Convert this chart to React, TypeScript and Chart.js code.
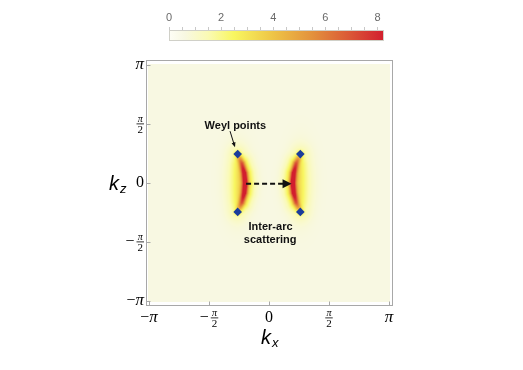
import React, { useEffect, useRef } from "react";
import { Chart, registerables } from "chart.js";

Chart.register(...registerables);

const PI = Math.PI;
const W = 523;
const H = 370;

// ---- axis ticks ----
const axisTickValues = [-PI, -PI / 2, 0, PI / 2, PI];
const axisTickLabels = ["−π", "−π/2", "0", "π/2", "π"];

// ---- Weyl points (kx, kz) ----
const weylKx = [-0.82, -0.82, 0.82, 0.82];
const weylKz = [0.77, -0.77, 0.77, -0.77];

// ---- Fermi arcs: centre lines and peak spectral weight ----
const arcKz = [0.77, 0.52, 0.26, 0, -0.26, -0.52, -0.77];
const leftArcKx = [-0.82, -0.71, -0.645, -0.62, -0.645, -0.71, -0.82];
const rightArcKx = [0.82, 0.71, 0.645, 0.62, 0.645, 0.71, 0.82];
const arcPeak = [2.2, 5.8, 7.8, 8.2, 7.8, 5.8, 2.2];
const arcWidthK = 0.06;
const arcHaloWidthK = 0.17;
const arcHaloFraction = 0.3;

// ---- diffuse glow around each arc ----
const glowKx = [-0.83, 0.83];
const glowKz = [0, 0];
const glowPeak = [1.3, 1.3];
const glowSigmaKx = 0.22;
const glowSigmaKz = 0.58;

const backgroundLevel = 0.6;

// ---- colour map ----
const colorStopValues = [0, 0.6, 1.5, 2.5, 4, 5.5, 7, 8.25];
const colorStopColors = ["#fefef6", "#f8f8e2", "#fafab4", "#f8f660", "#eec446", "#e3913c", "#da5536", "#d21e2e"];

// ---- colour bar ----
const colorbarTicks = [0, 2, 4, 6, 8];
const colorbarMinorStep = 0.5;
const colorbarMax = 8.25;

// ---- annotations ----
const weylLabel = "Weyl points";
const weylLabelPos = [-0.88, 1.53];
const weylArrowFrom = [-1.02, 1.38];
const weylArrowTo = [-0.89, 0.95];
const scatterLabel = ["Inter-arc", "scattering"];
const scatterLabelPos = [[0.04, -1.17], [0.03, -1.52]];
const scatterArrowFrom = [-0.6, -0.02];
const scatterArrowTo = [0.59, -0.02];

const serif = '"Liberation Serif", "DejaVu Serif", serif';
const sans = '"Liberation Sans", Arial, sans-serif';

function hexToRgb(h: string): number[] {
  const n = parseInt(h.slice(1), 16);
  return [(n >> 16) & 255, (n >> 8) & 255, n & 255];
}
const stopRgb = colorStopColors.map(hexToRgb);

function colorAt(v: number): number[] {
  if (v <= colorStopValues[0]) return stopRgb[0];
  for (let i = 1; i < colorStopValues.length; i++) {
    if (v <= colorStopValues[i]) {
      const t = (v - colorStopValues[i - 1]) / (colorStopValues[i] - colorStopValues[i - 1]);
      const a = stopRgb[i - 1];
      const b = stopRgb[i];
      return [a[0] + (b[0] - a[0]) * t, a[1] + (b[1] - a[1]) * t, a[2] + (b[2] - a[2]) * t];
    }
  }
  return stopRgb[stopRgb.length - 1];
}

const DIGIT_FONT = `16px ${serif}`;
const PI_FONT = `italic 17px ${serif}`;
const NUM_FONT = `italic 10px ${serif}`;
const DEN_FONT = `11px ${serif}`;

function drawLabel(ctx: CanvasRenderingContext2D, label: string, leftX: number, cy: number) {
  const neg = label.startsWith("−");
  const body = neg ? label.slice(1) : label;
  const frac = body.includes("/") ? body.split("/") : null;
  ctx.textBaseline = "middle";
  ctx.textAlign = "left";
  let xx = leftX;
  if (neg) {
    ctx.font = DIGIT_FONT;
    ctx.fillText("−", xx, cy);
    xx += ctx.measureText("−").width + (frac ? 2 : 0);
  }
  if (frac) {
    ctx.font = NUM_FONT;
    const nw = ctx.measureText(frac[0]).width;
    ctx.font = DEN_FONT;
    const dw = ctx.measureText(frac[1]).width;
    const fw = Math.max(nw, dw) + 2;
    ctx.textAlign = "center";
    ctx.font = NUM_FONT;
    ctx.fillText(frac[0], xx + fw / 2, cy - 4.5);
    ctx.font = DEN_FONT;
    ctx.fillText(frac[1], xx + fw / 2, cy + 6);
    ctx.fillRect(xx, cy - 0.5, fw, 0.8);
    ctx.textAlign = "left";
  } else {
    ctx.font = body === "π" ? PI_FONT : DIGIT_FONT;
    ctx.fillText(body, xx, cy);
  }
}

function labelWidth(ctx: CanvasRenderingContext2D, label: string): number {
  const neg = label.startsWith("−");
  const body = neg ? label.slice(1) : label;
  const frac = body.includes("/") ? body.split("/") : null;
  let w = 0;
  if (neg) {
    ctx.font = DIGIT_FONT;
    w += ctx.measureText("−").width + (frac ? 2 : 0);
  }
  if (frac) {
    ctx.font = NUM_FONT;
    const nw = ctx.measureText(frac[0]).width;
    ctx.font = DEN_FONT;
    const dw = ctx.measureText(frac[1]).width;
    w += Math.max(nw, dw) + 2;
  } else {
    ctx.font = body === "π" ? PI_FONT : DIGIT_FONT;
    w += ctx.measureText(body).width;
  }
  return w;
}

const heatmapPlugin = {
  id: "heatmap",
  beforeDatasetsDraw(chart: any) {
    const { ctx, chartArea, scales } = chart;
    const xs = scales.x;
    const ys = scales.y;
    const left = Math.round(chartArea.left) - 1;
    const right = Math.round(chartArea.right) + 1;
    const top = Math.round(chartArea.top) - 1;
    const bottom = Math.round(chartArea.bottom) + 1;
    const w = right - left;
    const h = bottom - top;
    const pxPerKx = Math.abs(xs.getPixelForValue(1) - xs.getPixelForValue(0));
    const pxPerKz = Math.abs(ys.getPixelForValue(1) - ys.getPixelForValue(0));
    const coreSigma = arcWidthK * pxPerKx;
    const haloSigma = arcHaloWidthK * pxPerKx;
    const arcs = [leftArcKx, rightArcKx].map((kxs) =>
      kxs.map((kx, i) => ({ px: xs.getPixelForValue(kx), py: ys.getPixelForValue(arcKz[i]), peak: arcPeak[i] }))
    );
    const glows = glowKx.map((kx, i) => ({
      px: xs.getPixelForValue(kx),
      py: ys.getPixelForValue(glowKz[i]),
      sx: glowSigmaKx * pxPerKx,
      sy: glowSigmaKz * pxPerKz,
      peak: glowPeak[i],
    }));
    const off = document.createElement("canvas");
    off.width = w;
    off.height = h;
    const octx = off.getContext("2d")!;
    const img = octx.createImageData(w, h);
    for (let j = 0; j < h; j++) {
      const py = top + j + 0.5;
      for (let i = 0; i < w; i++) {
        const px = left + i + 0.5;
        let v = backgroundLevel;
        for (const g of glows) {
          const dx = (px - g.px) / g.sx;
          const dy = (py - g.py) / g.sy;
          v += g.peak * Math.exp(-0.5 * (dx * dx + dy * dy));
        }
        let core = 0;
        for (const arc of arcs) {
          for (let k = 0; k < arc.length - 1; k++) {
            const a = arc[k];
            const b = arc[k + 1];
            const ex = b.px - a.px;
            const ey = b.py - a.py;
            let t = ((px - a.px) * ex + (py - a.py) * ey) / (ex * ex + ey * ey);
            t = Math.max(0, Math.min(1, t));
            const qx = a.px + ex * t - px;
            const qy = a.py + ey * t - py;
            const d2 = qx * qx + qy * qy;
            const pk = a.peak + (b.peak - a.peak) * t;
            const c =
              pk * (1 - arcHaloFraction) * Math.exp(-d2 / (2 * coreSigma * coreSigma)) +
              pk * arcHaloFraction * Math.exp(-d2 / (2 * haloSigma * haloSigma));
            if (c > core) core = c;
          }
        }
        v += core;
        if (v > colorbarMax) v = colorbarMax;
        const col = colorAt(v);
        const idx = (j * w + i) * 4;
        img.data[idx] = col[0];
        img.data[idx + 1] = col[1];
        img.data[idx + 2] = col[2];
        img.data[idx + 3] = 255;
      }
    }
    octx.putImageData(img, 0, 0);
    ctx.save();
    ctx.drawImage(off, left, top);

    // frame
    const fl = chartArea.left - 3;
    const fr = chartArea.right + 3;
    const ft = chartArea.top - 5;
    const fb = chartArea.bottom + 4;
    ctx.strokeStyle = "#a8a8a8";
    ctx.lineWidth = 1;
    ctx.strokeRect(Math.round(fl) + 0.5, Math.round(ft) + 0.5, Math.round(fr - fl), Math.round(fb - ft));
    // ticks
    ctx.beginPath();
    axisTickValues.forEach((v) => {
      const tx = Math.round(xs.getPixelForValue(v)) + 0.5;
      ctx.moveTo(tx, Math.round(fb) + 0.5);
      ctx.lineTo(tx, Math.round(fb) - 3.5);
      const ty = Math.round(ys.getPixelForValue(v)) + 0.5;
      ctx.moveTo(Math.round(fl) + 0.5, ty);
      ctx.lineTo(Math.round(fl) + 4.5, ty);
    });
    ctx.stroke();

    // tick labels
    ctx.fillStyle = "#000";
    axisTickValues.forEach((v, i) => {
      const lab = axisTickLabels[i];
      const lw = labelWidth(ctx, lab);
      drawLabel(ctx, lab, xs.getPixelForValue(v) - lw / 2, fb + 13);
      drawLabel(ctx, lab, fl - 2 - lw, ys.getPixelForValue(v));
    });

    // axis titles
    ctx.textBaseline = "alphabetic";
    ctx.textAlign = "left";
    const midX = xs.getPixelForValue(0);
    ctx.font = `italic 20px ${sans}`;
    ctx.fillText("k", midX - 8, fb + 39);
    ctx.font = `italic 13px ${sans}`;
    ctx.fillText("x", midX + 3, fb + 42);
    const midY = ys.getPixelForValue(0);
    ctx.font = `italic 20px ${sans}`;
    ctx.fillText("k", fl - 37, midY + 7);
    ctx.font = `italic 13px ${sans}`;
    ctx.fillText("z", fl - 26, midY + 10);
    ctx.restore();
  },
  afterDatasetsDraw(chart: any) {
    const { ctx, scales } = chart;
    const xs = scales.x;
    const ys = scales.y;
    const P = (p: number[]) => [xs.getPixelForValue(p[0]), ys.getPixelForValue(p[1])];
    ctx.save();
    ctx.fillStyle = "#111";
    ctx.strokeStyle = "#111";
    ctx.font = `bold 11px ${sans}`;
    ctx.textAlign = "center";
    ctx.textBaseline = "middle";
    const wl = P(weylLabelPos);
    ctx.fillText(weylLabel, wl[0], wl[1]);
    scatterLabel.forEach((s, i) => {
      const p = P(scatterLabelPos[i]);
      ctx.fillText(s, p[0], p[1]);
    });
    // thin arrow to the Weyl point
    const a0 = P(weylArrowFrom);
    const a1 = P(weylArrowTo);
    const ang = Math.atan2(a1[1] - a0[1], a1[0] - a0[0]);
    ctx.lineWidth = 1;
    ctx.beginPath();
    ctx.moveTo(a0[0], a0[1]);
    ctx.lineTo(a1[0] - 4 * Math.cos(ang), a1[1] - 4 * Math.sin(ang));
    ctx.stroke();
    ctx.beginPath();
    ctx.moveTo(a1[0], a1[1]);
    ctx.lineTo(a1[0] - 5 * Math.cos(ang) + 2 * Math.sin(ang), a1[1] - 5 * Math.sin(ang) - 2 * Math.cos(ang));
    ctx.lineTo(a1[0] - 5 * Math.cos(ang) - 2 * Math.sin(ang), a1[1] - 5 * Math.sin(ang) + 2 * Math.cos(ang));
    ctx.closePath();
    ctx.fill();
    // dashed scattering arrow
    const s0 = P(scatterArrowFrom);
    const s1 = P(scatterArrowTo);
    ctx.lineWidth = 2;
    ctx.setLineDash([5, 3]);
    ctx.beginPath();
    ctx.moveTo(s0[0], s0[1]);
    ctx.lineTo(s1[0] - 8, s1[1]);
    ctx.stroke();
    ctx.setLineDash([]);
    ctx.beginPath();
    ctx.moveTo(s1[0], s1[1]);
    ctx.lineTo(s1[0] - 9, s1[1] - 4.5);
    ctx.lineTo(s1[0] - 9, s1[1] + 4.5);
    ctx.closePath();
    ctx.fill();
    ctx.restore();
  },
  afterDraw(chart: any) {
    const { ctx } = chart;
    const bl = 169;
    const br = 384;
    const bt = 30;
    const bb = 41;
    const px = (v: number) => bl + (v / colorbarMax) * (br - bl);
    ctx.save();
    const grad = ctx.createLinearGradient(bl, 0, br, 0);
    colorStopValues.forEach((v, i) => grad.addColorStop(v / colorbarMax, colorStopColors[i]));
    ctx.fillStyle = grad;
    ctx.fillRect(bl, bt, br - bl, bb - bt);
    ctx.strokeStyle = "#d0d0c8";
    ctx.lineWidth = 1;
    ctx.strokeRect(bl + 0.5, bt + 0.5, br - bl - 1, bb - bt - 1);
    ctx.strokeStyle = "#c8c8c8";
    ctx.beginPath();
    for (let v = 0; v <= colorbarTicks[colorbarTicks.length - 1] + 1e-6; v += colorbarMinorStep) {
      const x = Math.round(px(v)) + 0.5;
      ctx.moveTo(x, bt);
      ctx.lineTo(x, bt - 3);
    }
    ctx.stroke();
    ctx.fillStyle = "#6a6a6a";
    ctx.font = `11px ${sans}`;
    ctx.textAlign = "center";
    ctx.textBaseline = "middle";
    colorbarTicks.forEach((v) => ctx.fillText(String(v), px(v), 18));
    ctx.restore();
  },
};

export default function App() {
  const ref = useRef<HTMLCanvasElement>(null);
  useEffect(() => {
    const chart = new Chart(ref.current!, {
      type: "scatter",
      data: {
        datasets: [
          {
            label: "Weyl points",
            data: weylKx.map((x, i) => ({ x, y: weylKz[i] })),
            pointStyle: "rectRot",
            pointRadius: 4.3,
            backgroundColor: "#1a3c9c",
            borderColor: "#1a3c9c",
            borderWidth: 0,
          },
        ],
      },
      options: {
        responsive: false,
        animation: false,
        devicePixelRatio: 1,
        layout: { padding: { left: 149, right: W - 389, top: 65, bottom: H - 301 } },
        scales: {
          x: { type: "linear", min: -PI, max: PI, display: false },
          y: { type: "linear", min: -PI, max: PI, display: false },
        },
        plugins: { legend: { display: false }, tooltip: { enabled: false } },
      },
      plugins: [heatmapPlugin],
    } as any);
    return () => chart.destroy();
  }, []);
  return (
    <div style={{ position: "fixed", left: 0, top: 0, width: W, height: H, background: "#fff" }}>
      <canvas ref={ref} width={W} height={H} style={{ width: W, height: H, display: "block" }} />
    </div>
  );
}
